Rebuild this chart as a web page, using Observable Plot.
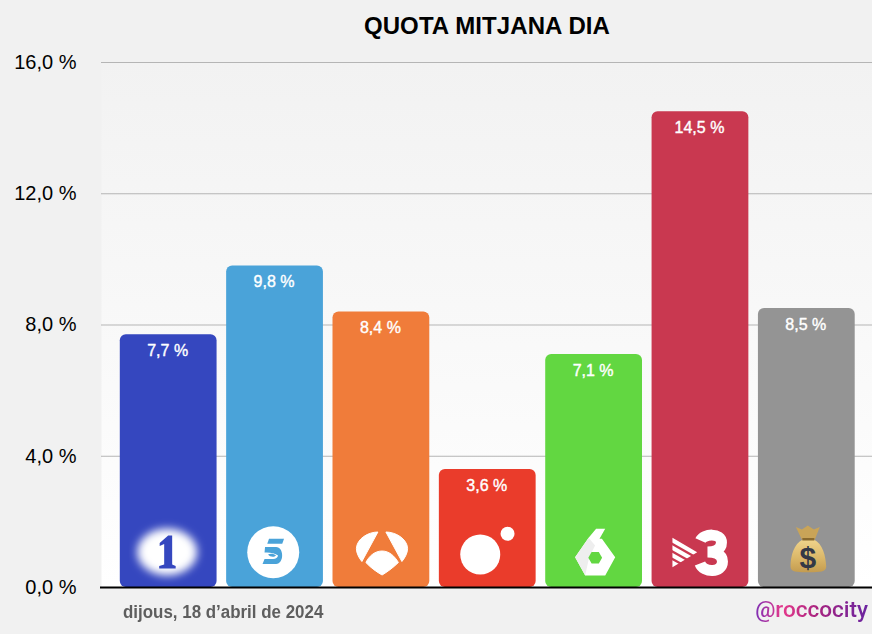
<!DOCTYPE html>
<html lang="ca">
<head>
<meta charset="utf-8">
<script src="https://cdn.jsdelivr.net/npm/d3@7"></script>
<script src="https://cdn.jsdelivr.net/npm/@observablehq/plot@0.6"></script>
<style>
html,body{margin:0;padding:0;background:#f1f1f1;width:872px;height:634px;overflow:hidden;font-family:"Liberation Sans",Arial,sans-serif}
#wrap{position:relative;width:872px;height:634px}
#title{position:absolute;left:0;right:0;top:12px;padding-left:102px;text-align:center;font-size:24px;font-weight:700;color:#000;line-height:28px;box-sizing:border-box;letter-spacing:.1px}
#date{position:absolute;left:123px;top:601px;font-size:18px;font-weight:700;color:#5e5e5e;line-height:22px;white-space:nowrap;transform-origin:left center;transform:scaleX(.94)}
#handle{position:absolute;right:4px;top:596px;font-family:Roboto,"Liberation Sans",sans-serif;font-size:22.5px;line-height:26px;white-space:nowrap;font-weight:500;
background:linear-gradient(90deg,#7d2fb5 0%,#e5398c 24%,#a82480 55%,#6a24a0 100%);-webkit-background-clip:text;background-clip:text;color:transparent}
svg{display:block}
</style>
</head>
<body>
<div id="wrap">
<div id="chart"></div>
<div id="title">QUOTA MITJANA DIA</div>
<div id="date">dijous, 18 d’abril de 2024</div>
<div id="handle">@roccocity</div>
</div>
<script>
const channels = ["La 1", "Telecinco", "Antena 3", "Cuatro", "laSexta", "3Cat", "Altres"];
const shares = [7.7, 9.8, 8.4, 3.6, 7.1, 14.5, 8.5];
const colors = ["#3547bf", "#4aa3d9", "#f07c3a", "#ea3c2b", "#62d741", "#c93850", "#949494"];
const yTicks = [0, 4, 8, 12, 16];

const wrapIcon = (s) => "data:image/svg+xml," + encodeURIComponent(
  `<svg xmlns="http://www.w3.org/2000/svg" width="80" height="80" viewBox="0 0 80 80">${s}</svg>`);

const icons = [
  `<defs><filter id="b" x="-30%" y="-30%" width="160%" height="160%"><feGaussianBlur stdDeviation="4.5"/></filter></defs>
   <ellipse cx="38.5" cy="39.5" rx="30" ry="23.5" fill="#fff" filter="url(#b)"/>
   <path fill="#3547bf" d="M31 30.5 L39.5 23 H43.5 V52 L47 53.5 V56 H30.5 V53.5 L35.5 52 V31.5 L31 33.5Z"/>`,
  `<circle cx="38.2" cy="39.7" r="26" fill="#fff"/>
   <path fill="#4aa3d9" d="M34 26.3 H49 L47.2 31.3 H32.2Z"/>
   <path fill="#4aa3d9" fill-rule="evenodd" d="M30 34.5 H41 C49 34.5 49.5 51 41 51.5 H27.5 L29.5 46.5 H38 C41 46.5 42.5 45 43 43 C40 40.5 34 39.5 29.5 40Z M33 42 C35 40.8 39 41 41 43 C39 45 35 44.5 33 42Z"/>`,
  `<g fill="#fff" stroke="#fff" stroke-width="1" stroke-linejoin="round"><path d="M36.5 19.5 C27 19.5 15.5 26 15 36 C15 41 18 46 20.5 49 Z"/>
   <path d="M44.5 19.5 C54 19.5 65.7 26 66.2 36 C66.2 41 63 46 60.5 49 Z"/>
   <path d="M40.7 38.5 C33 38.5 27.5 44 24.5 50 C29 55 36 60 40.7 62.5 C45 60 52 55 57 50 C53.5 44 48 38.5 40.7 38.5Z"/></g>`,
  `<circle cx="32.5" cy="42" r="20" fill="#fff"/><circle cx="59.8" cy="21.3" r="7" fill="#fff"/>`,
  `<path fill="#fff" d="M21 44.7 L34.5 25.3 L42 16.3 H51.1 L45.4 26.3 H47.8 L61.1 44.7 L51.1 63 H31.1Z"/>
   <path fill="#eeeeee" d="M34.5 25.3 L41 33 L35 45 L31.1 63 L21 44.7Z"/>
   <path fill="#62d741" d="M37.5 39.5 H44.7 L48 45.3 L44.7 51 H37.5 L34.2 45.3Z"/>`,
  `<path fill="#fff" d="M12 25.3 L36.7 39.7 L12 54.7Z"/>
   <g stroke="#c93850" stroke-width="2.4"><line x1="11" y1="31" x2="33" y2="43.5"/><line x1="11" y1="38.5" x2="27" y2="47.5"/><line x1="11" y1="46" x2="21" y2="51.5"/></g>
   <path fill="none" stroke="#fff" stroke-width="11" d="M40 28 C43 21 61 20 61 30 C61 38 52 39.5 47 39.5 C53 39.5 62 41 62 49 C62 61 43 60.5 39.5 51"/>`,
  `<defs><linearGradient id="g" x1="0" y1="0" x2="0" y2="1"><stop offset="0" stop-color="#f0d48c"/><stop offset=".6" stop-color="#d9b566"/><stop offset="1" stop-color="#c49c50"/></linearGradient></defs>
   <path fill="#c9a458" d="M29 14.5 L35 17 L41 13 L47 17 L53 14.5 L48 27 H35Z"/>
   <path fill="url(#g)" d="M36 27 C27 31 23.7 44 23.7 54 C23.5 60 32 59.7 41 59.7 C51 59.7 59.5 60 59.4 54 C59 44 56 31 47 27Z"/>
   <path fill="#8a6a2e" d="M35.5 25.5 H47.5 V28 H35.5Z"/>
   <text x="41" y="55" text-anchor="middle" font-family="Liberation Sans" font-weight="700" font-size="30" fill="#333846">$</text>`
].map(wrapIcon);

const rows = channels.map((channel, i) => ({channel, share: shares[i], color: colors[i], icon: icons[i]}));
const fmt = (v) => v.toFixed(1).replace(".", ",") + " %";

const bgDefs = () => {
  const s = d3.create("svg:defs");
  const g = s.append("linearGradient").attr("id", "plotbg").attr("x1", 0).attr("y1", 0).attr("x2", 0).attr("y2", 1);
  g.append("stop").attr("offset", 0).attr("stop-color", "#f2f2f2");
  g.append("stop").attr("offset", 1).attr("stop-color", "#ffffff");
  return s.node();
};

const plot = Plot.plot({
  width: 872,
  height: 634,
  marginTop: 62,
  marginBottom: 47,
  marginLeft: 101,
  marginRight: 0,
  style: {background: "transparent", fontFamily: "'Liberation Sans', Arial, sans-serif"},
  x: {type: "band", domain: channels, range: [115, 859.5], round: false, paddingInner: 0.09, paddingOuter: 0.045, axis: null},
  y: {domain: [0, 16], axis: null},
  marks: [
    bgDefs,
    Plot.frame({fill: "url(#plotbg)", stroke: null}),
    Plot.ruleY(yTicks.filter((d) => d > 0), {stroke: "#b5b5b5", strokeWidth: 1}),
    Plot.axisY({ticks: yTicks, tickSize: 0, tickPadding: 25, tickFormat: fmt, fontSize: 20, fill: "#000", label: null, anchor: "left"}),
    Plot.barY(rows, {x: "channel", y: "share", fill: "color", rx: 6}),
    Plot.text(rows, {x: "channel", y: "share", text: (d) => fmt(d.share), dy: 16, dx: -1, fill: "#fff", stroke: "#fff", strokeWidth: 0.4, fontSize: 16}),
    Plot.image(rows, {x: "channel", y: () => 0, src: "icon", width: 80, height: 80, dy: -35}),
    Plot.ruleY([0], {stroke: "#000", strokeWidth: 2, insetLeft: -1})
  ]
});
document.getElementById("chart").append(plot);
</script>
</body>
</html>
